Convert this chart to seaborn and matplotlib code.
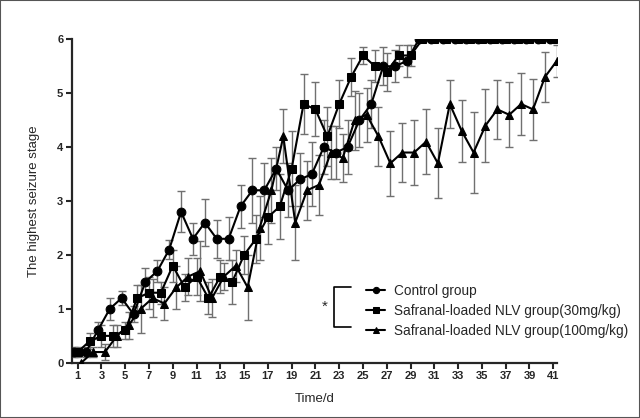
import pandas as pd
import seaborn as sns
import matplotlib.pyplot as plt
from matplotlib.patches import Rectangle

days = list(range(1, 42))
groups = ["Control group",
          "Safranal-loaded NLV group(30mg/kg)",
          "Safranal-loaded NLV group(100mg/kg)"]

control = [0.2, 0.2, 0.6, 1.0, 1.2, 0.9, 1.5, 1.7, 2.1, 2.8, 2.3, 2.6, 2.3, 2.3, 2.9,
           3.2, 3.2, 3.6, 3.2, 3.4, 3.5, 4.0, 3.9, 4.0, 4.5, 4.8, 5.5, 5.5, 5.6, 6.0,
           6.0, 6.0, 6.0, 6.0, 6.0, 6.0, 6.0, 6.0, 6.0, 6.0, 6.0]
control_err = [0.1, 0.1, 0.15, 0.2, 0.13, 0.15, 0.25, 0.2, 0.18, 0.38, 0.3, 0.43, 0.35, 0.4, 0.4,
               0.6, 0.5, 0.4, 0.5, 0.5, 0.6, 0.5, 0.5, 0.5, 0.5, 0.45, 0.35, 0.3, 0.3, 0.0,
               0.0, 0.0, 0.0, 0.0, 0.0, 0.0, 0.0, 0.0, 0.0, 0.0, 0.0]

nlv30 = [0.2, 0.4, 0.5, 0.5, 0.6, 1.2, 1.3, 1.3, 1.8, 1.4, 1.6, 1.2, 1.6, 1.5, 2.0,
         2.3, 2.7, 2.9, 3.6, 4.8, 4.7, 4.2, 4.8, 5.3, 5.7, 5.5, 5.4, 5.7, 5.7, 6.0,
         6.0, 6.0, 6.0, 6.0, 6.0, 6.0, 6.0, 6.0, 6.0, 6.0, 6.0]
nlv30_err = [0.1, 0.15, 0.2, 0.2, 0.15, 0.25, 0.3, 0.2, 0.3, 0.25, 0.35, 0.3, 0.3, 0.4, 0.35,
             0.45, 0.5, 0.6, 0.7, 0.55, 0.5, 0.55, 0.45, 0.35, 0.15, 0.3, 0.35, 0.2, 0.2, 0.0,
             0.0, 0.0, 0.0, 0.0, 0.0, 0.0, 0.0, 0.0, 0.0, 0.0, 0.0]

nlv100 = [0.0, 0.2, 0.2, 0.5, 0.7, 1.0, 1.2, 1.1, 1.4, 1.6, 1.7, 1.2, 1.6, 1.8, 1.4,
          2.5, 3.2, 4.2, 2.6, 3.2, 3.3, 3.9, 3.8, 4.5, 4.6, 4.2, 3.7, 3.9, 3.9, 4.1,
          3.7, 4.8, 4.3, 3.9, 4.4, 4.7, 4.6, 4.8, 4.7, 5.3, 5.6]
nlv100_err = [0.0, 0.1, 0.15, 0.2, 0.25, 0.45, 0.35, 0.3, 0.4, 0.35, 0.55, 0.35, 0.25, 0.3, 0.6,
              0.6, 0.6, 0.5, 0.7, 0.55, 0.55, 0.5, 0.45, 0.55, 0.5, 0.55, 0.6, 0.55, 0.6, 0.6,
              0.65, 0.45, 0.58, 0.75, 0.68, 0.55, 0.6, 0.58, 0.56, 0.47, 0.3]

# points are staggered a little so the error bars don't sit on top of each other
shift = {groups[0]: -0.3, groups[1]: 0.0, groups[2]: 0.3}

rows = []
for g, vals, errs in zip(groups, [control, nlv30, nlv100], [control_err, nlv30_err, nlv100_err]):
    for d, v, e in zip(days, vals, errs):
        rows.append({"group": g, "day": d, "x": d + shift[g], "stage": v, "err": e})
df = pd.DataFrame(rows)

sns.set_style("ticks")
plt.rcParams["font.family"] = ["Liberation Sans", "DejaVu Sans"]

fig = plt.figure(figsize=(6.4, 4.18), dpi=100)
ax = fig.add_axes([0.112, 0.132, 0.758, 0.774])

for g in groups:
    sub = df[(df["group"] == g) & (df["err"] > 0)]
    ax.errorbar(sub["x"], sub["stage"], yerr=sub["err"], fmt="none", ecolor="#707070",
                elinewidth=1.0, capsize=2.6, capthick=1.0, zorder=1)

sns.lineplot(data=df, x="x", y="stage", style="group", style_order=groups,
             markers=["o", "s", "^"], dashes=False, color="k", lw=1.5,
             markersize=6.3, markeredgecolor="k", errorbar=None, ax=ax, zorder=3)

ax.set_xlim(0.5, 41.3)
ax.set_ylim(0, 6)
ax.set_xticks(range(1, 42, 2))
ax.set_yticks(range(0, 7))
ax.tick_params(width=1.5, length=4, labelsize=8, pad=2)
for lab in ax.get_xticklabels() + ax.get_yticklabels():
    lab.set_fontweight("bold")
for s in ["left", "bottom"]:
    ax.spines[s].set_linewidth(1.6)
sns.despine(ax=ax)

ax.set_xlabel("Time/d", fontsize=9.5)
ax.set_ylabel("The highest seizure stage", fontsize=9.5)
ax.xaxis.set_label_coords(0.5, -0.094)
ax.yaxis.set_label_coords(-0.065, 0.5)

sns.move_legend(ax, "upper left", bbox_to_anchor=(0.592, 0.264), frameon=False,
                title=None, fontsize=9.8, handlelength=1.45, handletextpad=0.62,
                labelspacing=0.42, borderpad=0)
for h in ax.get_legend().legend_handles:
    h.set_markersize(4.5)

ax.plot([0.575, 0.5405, 0.5405, 0.575], [0.235, 0.235, 0.111, 0.111],
        transform=ax.transAxes, color="k", lw=1.2, clip_on=False)
ax.text(0.522, 0.173, "*", transform=ax.transAxes, fontsize=11, ha="center", va="center")

fig.patches.append(Rectangle((0, 0), 1, 1, transform=fig.transFigure,
                             fill=False, ec="#555555", lw=1.5))

fig.savefig("out.png", dpi=100)
